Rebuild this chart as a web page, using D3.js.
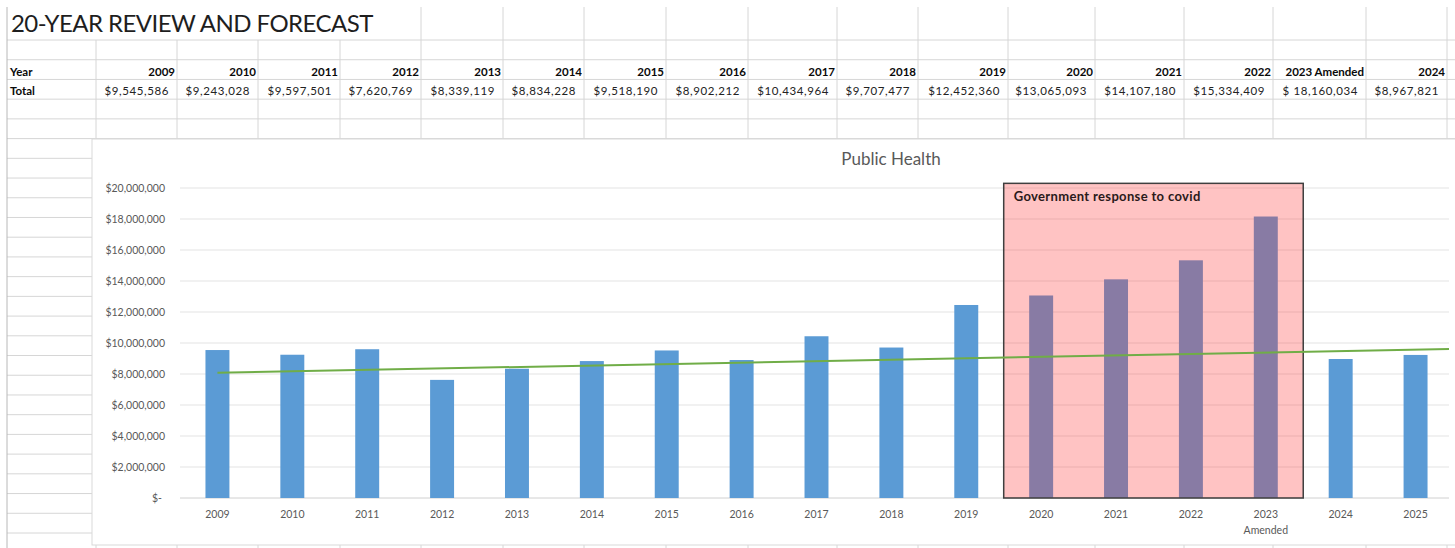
<!DOCTYPE html>
<html><head><meta charset="utf-8">
<script src="https://cdn.jsdelivr.net/npm/d3@7/dist/d3.min.js"></script>
<style>
html,body{margin:0;padding:0;background:#fff;}
svg{display:block;font-family:Lato,"Open Sans",sans-serif;}
</style></head>
<body><svg id="c" width="1455" height="548"></svg>
<script>
// ---------------- data ----------------
const years = ["2009","2010","2011","2012","2013","2014","2015","2016","2017","2018","2019","2020","2021","2022","2023","2024","2025"];
const xLabels = ["2009","2010","2011","2012","2013","2014","2015","2016","2017","2018","2019","2020","2021","2022","2023\nAmended","2024","2025"];
const values = [9545586,9243028,9597501,7620769,8339119,8834228,9518190,8902212,10434964,9707477,12452360,13065093,14107180,15334409,18160034,8967821,9230000];
const tableHeaders = ["2009","2010","2011","2012","2013","2014","2015","2016","2017","2018","2019","2020","2021","2022","2023 Amended","2024"];
const tableTotals = ["$9,545,586","$9,243,028","$9,597,501","$7,620,769","$8,339,119","$8,834,228","$9,518,190","$8,902,212","$10,434,964","$9,707,477","$12,452,360","$13,065,093","$14,107,180","$15,334,409","$ 18,160,034","$8,967,821"];
const yTicks = [0,2000000,4000000,6000000,8000000,10000000,12000000,14000000,16000000,18000000,20000000];
const covidYears = ["2020","2021","2022","2023"];
const covidBoxTop = 20300000;
const trendEnds = [8080000, 9570000]; // trendline value at first and last category
const title = "20-YEAR REVIEW AND FORECAST";
const chartTitle = "Public Health";
const covidLabel = "Government response to covid";

// ---------------- layout ----------------
const W = 1455, H = 548;
const colEdges = [7,96,177,258,340,421,503,584,666,748,837,918,1008,1095,1184,1273,1366,1447];
const rowTop = 40, rowH = 19.72;
const chartBox = {x:92, y:139, w:1375, h:406};
const plot = {x0:180, x1:1453, y0:498, y1:188};

const svg = d3.select("#c");
const gridCol = "#d6d6d6";

// spreadsheet horizontal lines
const rows = d3.range(0, 26).map(k => rowTop + k*rowH);
svg.append("g").selectAll("line").data(rows).join("line")
  .attr("x1", 7).attr("x2", W).attr("y1", d=>d).attr("y2", d=>d)
  .attr("stroke", gridCol).attr("stroke-width", 1);
// vertical lines
svg.append("g").selectAll("line").data(colEdges).join("line")
  .attr("x1", d=>d).attr("x2", d=>d)
  .attr("y1", d => d < 420 && d > 10 ? rowTop : 7).attr("y2", H)
  .attr("stroke", (d,i)=> i===0 ? "#b8b8b8" : gridCol).attr("stroke-width", 1);

// title
svg.append("text").attr("x", 11).attr("y", 32).text(title)
  .attr("font-size", 24).attr("letter-spacing","-0.55px").attr("fill", "#1e1e1e");

// table
const hdr = {size:11.5, fill:"#0a0a0a"};
svg.append("text").attr("x", 10).attr("y", 75.5).text("Year").attr("font-weight","bold").attr("font-size",hdr.size).attr("fill",hdr.fill);
svg.append("text").attr("x", 10).attr("y", 94.5).text("Total").attr("font-weight","bold").attr("font-size",hdr.size).attr("fill",hdr.fill);
svg.append("g").selectAll("text").data(tableHeaders).join("text")
  .attr("x", (d,i)=> colEdges[i+2]-2).attr("y", 75.5).attr("text-anchor","end")
  .attr("font-weight","bold").attr("font-size",hdr.size).attr("fill",hdr.fill).text(d=>d);
svg.append("g").selectAll("text").data(tableTotals).join("text")
  .attr("x", (d,i)=> colEdges[i+2]-8).attr("y", 94.5).attr("text-anchor","end")
  .attr("font-size",11.5).attr("letter-spacing","0.6px").attr("fill","#222").text(d=>d);

// chart frame
svg.append("rect").attr("x", chartBox.x).attr("y", chartBox.y).attr("width", chartBox.w).attr("height", chartBox.h)
  .attr("fill","#fff").attr("stroke","#d9d9d9");

svg.append("text").attr("x", 891).attr("y", 165).attr("text-anchor","middle")
  .attr("font-size",17).attr("fill","#595959").text(chartTitle);

const x = d3.scaleBand().domain(years).range([plot.x0, plot.x1]).padding(0);
const y = d3.scaleLinear().domain([0, 20000000]).range([plot.y0, plot.y1]);
const barW = x.bandwidth()*0.32;

// gridlines
svg.append("g").selectAll("line").data(yTicks).join("line")
  .attr("x1", plot.x0).attr("x2", plot.x1 - 4)
  .attr("y1", d=>y(d)).attr("y2", d=>y(d))
  .attr("stroke", d => d===0 ? "#d0d0d0" : "#e3e3e3").attr("stroke-width",1);

// y axis labels
const fmt = d3.format("$,");
svg.append("g").selectAll("text").data(yTicks).join("text")
  .attr("x", d => d===0 ? 162 : 165).attr("y", d=>y(d)).attr("dy","0.35em")
  .attr("text-anchor","end").attr("font-size",10.5).attr("fill","#595959")
  .text(d => d===0 ? "$-" : fmt(d));

// bars
svg.append("g").selectAll("rect").data(years).join("rect")
  .attr("x", (d)=> x(d) + (x.bandwidth()-barW)/2)
  .attr("width", barW)
  .attr("y", (d,i)=> y(values[i]))
  .attr("height", (d,i)=> y(0)-y(values[i]))
  .attr("fill","#5b9bd5");

// x labels
const xl = svg.append("g").selectAll("text").data(xLabels).join("text")
  .attr("text-anchor","middle").attr("font-size",10.5).attr("fill","#595959")
  .attr("transform",(d,i)=>`translate(${x(years[i])+x.bandwidth()/2},518)`);
xl.each(function(d){
  const parts = d.split("\n");
  d3.select(this).selectAll("tspan").data(parts).join("tspan")
    .attr("x",0).attr("dy",(p,j)=> j===0 ? 0 : 16).text(p=>p);
});

// covid box (semi-transparent overlay)
const bx0 = x(covidYears[0]), bx1 = x(covidYears[covidYears.length-1]) + x.bandwidth();
svg.append("rect").attr("x", bx0).attr("y", y(covidBoxTop))
  .attr("width", bx1-bx0).attr("height", y(0)-y(covidBoxTop))
  .attr("fill","rgba(255,40,40,0.28)").attr("stroke","#3f3f3f").attr("stroke-width",1.5);
svg.append("text").attr("x", bx0+10).attr("y", y(covidBoxTop)+18)
  .attr("font-weight","bold").attr("font-size",13).attr("letter-spacing","0.35px").attr("fill","#2a1a1a").text(covidLabel);

// trendline (linear, extended to plot edge)
const cx0 = x(years[0])+x.bandwidth()/2, cx1 = x(years[years.length-1])+x.bandwidth()/2;
const slope = (trendEnds[1]-trendEnds[0])/(cx1-cx0);
const xEnd = plot.x1 - 4;
svg.append("line").attr("x1", cx0).attr("y1", y(trendEnds[0]))
  .attr("x2", xEnd).attr("y2", y(trendEnds[0] + slope*(xEnd-cx0)))
  .attr("stroke","#70ad47").attr("stroke-width",2);
</script></body></html>
